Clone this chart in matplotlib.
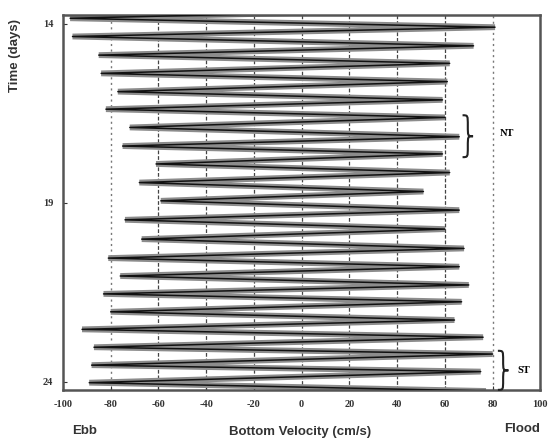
import numpy as np
import matplotlib
matplotlib.use("Agg")
import matplotlib.pyplot as plt
from matplotlib.path import Path
from matplotlib.patches import PathPatch

# Peak ebb (negative) and flood (positive) bottom velocities, cm/s, with times in days
ebb_time = [13.84, 14.35, 14.87, 15.38, 15.89, 16.38, 16.89, 17.41, 17.91, 18.43, 18.94,
            19.47, 20.01, 20.54, 21.04, 21.54, 22.04, 22.53, 23.03, 23.53, 24.02]
ebb_vel = [-97, -96, -85, -84, -77, -82, -72, -75, -61, -68, -59,
           -74, -67, -81, -76, -83, -80, -92, -87, -88, -89]
flood_time = [13.58, 14.09, 14.61, 15.10, 15.61, 16.12, 16.61, 17.15, 17.63, 18.15, 18.68,
              19.20, 19.73, 20.27, 20.78, 21.29, 21.76, 22.27, 22.75, 23.22, 23.71, 24.25]
flood_vel = [70, 81, 72, 62, 61, 59, 60, 66, 59, 62, 51,
             66, 60, 68, 66, 70, 67, 64, 76, 80, 75, 76]

y_ticks = [14, 19, 24]
x_ticks = [-100, -80, -60, -40, -20, 0, 20, 40, 60, 80, 100]

# Merge the two peak series into one time-ordered record
t = np.array(ebb_time + flood_time)
v = np.array(ebb_vel + flood_vel)
order = np.argsort(t)
t, v = t[order], v[order]

fig = plt.figure(figsize=(5.5, 4.42), dpi=100)
ax = fig.add_axes([0.1145, 0.118, 0.868, 0.848])

# vertical reference lines
for xv in x_ticks[1:-1]:
    if abs(xv) == 80:
        ax.axvline(xv, color="#777777", lw=1.0, ls=(0, (1.5, 2.5)), zorder=1)
    else:
        ax.axvline(xv, color="#444444", lw=0.9, ls=(0, (3, 1.5)), zorder=1)

ax.plot(v, t, color="#8c8c8c", lw=4.2, solid_joinstyle="miter", zorder=2)
ax.plot(v, t, color="#111111", lw=1.1, zorder=3)

ax.set_xlim(-100, 100)
ax.set_ylim(24.22, 13.75)
ax.set_xticks(x_ticks)
ax.set_yticks(y_ticks)
serif = {"family": "Liberation Serif", "weight": "bold", "size": 7.5}
ax.set_xticklabels([str(x) for x in x_ticks], fontdict=serif)
ax.set_yticklabels([str(y) for y in y_ticks], fontdict=serif)
ax.tick_params(direction="in", length=3, width=0.8, colors="#333333", pad=7)
for s in ax.spines.values():
    s.set_linewidth(1.8)
    s.set_color("#555555")


def brace(ax, x, y0, y1, w):
    """Right-pointing curly brace at x spanning y0..y1 in data coords."""
    ym = (y0 + y1) / 2
    verts = [(x - w, y0), (x, y0), (x, y0), (x, (y0 + ym) / 2),
             (x, ym), (x, ym), (x + w, ym),
             (x, ym), (x, ym), (x, (ym + y1) / 2),
             (x, y1), (x, y1), (x - w, y1)]
    codes = [Path.MOVETO, Path.CURVE4, Path.CURVE4, Path.CURVE4,
             Path.CURVE4, Path.CURVE4, Path.CURVE4,
             Path.CURVE4, Path.CURVE4, Path.CURVE4,
             Path.CURVE4, Path.CURVE4, Path.CURVE4]
    ax.add_patch(PathPatch(Path(verts, codes), fill=False, lw=1.5,
                           color="#222222", clip_on=False, zorder=4))


brace(ax, 69.6, 16.55, 17.72, 2.2)
brace(ax, 84.4, 23.13, 24.22, 2.2)
label_font = {"family": "Liberation Serif", "weight": "bold", "size": 7.5}
ax.text(83, 17.07, "NT", fontdict=label_font, ha="left", va="center")
ax.text(90.5, 23.68, "ST", fontdict=label_font, ha="left", va="center")

sans = {"family": "Liberation Sans", "weight": "bold", "size": 9.5, "color": "#333333"}
fig.text(15 / 550, 1 - 55 / 442, "Time (days)", rotation=90, ha="center", va="center", fontdict=sans)
fig.text(300 / 550, 1 - 432 / 442, "Bottom Velocity (cm/s)", ha="center", va="center", fontdict=sans)
fig.text(85 / 550, 1 - 431 / 442, "Ebb", ha="center", va="center", fontdict=sans)
fig.text(522 / 550, 1 - 429 / 442, "Flood", ha="center", va="center", fontdict=sans)

fig.savefig("out.png", dpi=100)
